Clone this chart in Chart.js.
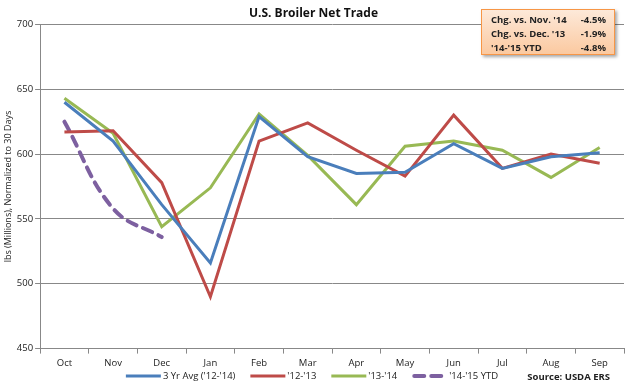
<!DOCTYPE html>
<html><head><meta charset="utf-8">
<script src="https://cdn.jsdelivr.net/npm/chart.js@4/dist/chart.umd.min.js"></script>
<style>
html,body{margin:0;padding:0;background:#fff;}
#wrap{position:relative;width:628px;height:388px;}
#box{position:absolute;left:481px;top:9px;width:134px;height:46px;border:1px solid #f79646;
background:linear-gradient(#fde9d9,#fbc9a0);box-shadow:2px 2px 3px rgba(0,0,0,0.35);
font-family:"Open Sans","Liberation Sans",sans-serif;font-weight:bold;font-size:9.5px;color:#222;box-sizing:border-box;padding:3px 8px 0 9px;line-height:14px;}
#box .r{display:flex;justify-content:space-between;}
</style></head>
<body><div id="wrap"><canvas id="c" width="628" height="388"></canvas>
<div id="box"><div class="r"><span>Chg. vs. Nov. '14</span><span>-4.5%</span></div>
<div class="r"><span>Chg. vs. Dec. '13</span><span>-1.9%</span></div>
<div class="r"><span>'14-'15 YTD</span><span>-4.8%</span></div></div></div>
<script>
const categories=["Oct","Nov","Dec","Jan","Feb","Mar","Apr","May","Jun","Jul","Aug","Sep"];
const avg3yr=[640,610,561,516,629,598,585,586,608,589,598,601];
const y1213=[617,618,578,490,610,624,603,583,630,589,600,593];
const y1314=[643,616,544,574,631,599,561,606,610,603,582,605];
const y1415=[625,558,536];
const yTicks=[450,500,550,600,650,700];
const FONT='"Open Sans","Liberation Sans",sans-serif';
const legendPlugin={id:'lg',afterDraw(ch){
  const c=ch.ctx;c.save();
  c.font='9.5px '+FONT;c.textBaseline='middle';c.fillStyle='#222';
  const y=376, lineW=35, gap=2, itemGap=15;
  const items=ch.data.datasets;
  let total=0;
  items.forEach(d=>{total+=lineW+gap+c.measureText(d.label).width;});
  total+=itemGap*(items.length-1);
  let x=312-total/2;
  items.forEach(d=>{
    c.save();c.strokeStyle=d.borderColor;c.lineWidth=d.borderWidth;c.lineCap=d.borderDash?'round':'butt';
    c.setLineDash(d.borderDash||[]);c.beginPath();c.moveTo(x+(d.borderDash?2:0),y);c.lineTo(x+lineW,y);c.stroke();c.restore();
    x+=lineW+gap;c.textAlign='left';c.fillText(d.label,x,y);
    x+=c.measureText(d.label).width+itemGap;
  });
  c.font='bold 9.5px '+FONT;c.textAlign='right';c.fillText('Source: USDA ERS',610,377);
  c.restore();}};
new Chart(document.getElementById('c'),{
type:'line',
data:{labels:categories,datasets:[
{label:"3 Yr Avg ('12-'14)",data:avg3yr,borderColor:'#4a7ebb',backgroundColor:'#4a7ebb',borderWidth:3,pointRadius:0,tension:0},
{label:"'12-'13",data:y1213,borderColor:'#be4b48',backgroundColor:'#be4b48',borderWidth:3,pointRadius:0,tension:0},
{label:"'13-'14",data:y1314,borderColor:'#98b954',backgroundColor:'#98b954',borderWidth:3,pointRadius:0,tension:0},
{label:"'14-'15 YTD",data:y1415,borderColor:'#7d60a0',backgroundColor:'#7d60a0',borderWidth:4,borderDash:[10,7],borderCapStyle:'round',pointRadius:0,tension:0.4}
]},
options:{responsive:false,animation:false,
layout:{padding:{left:3,right:4,top:2,bottom:15}},
plugins:{
title:{display:true,text:'U.S. Broiler Net Trade',font:{family:FONT,size:12,weight:'bold'},color:'#111',padding:{top:4,bottom:4}},
legend:{display:false},
tooltip:{enabled:false}},
scales:{
x:{offset:true,grid:{display:true,drawOnChartArea:false,offset:true,tickLength:5,color:'#888'},border:{color:'#888'},
ticks:{font:{family:FONT,size:9.5},color:'#222',padding:4}},
y:{min:450,max:700,afterBuildTicks(a){a.ticks=yTicks.map(v=>({value:v}));},
grid:{color:'#888',tickLength:5},border:{color:'#888'},
ticks:{font:{family:FONT,size:9.5},color:'#222',padding:2},
title:{display:true,text:'lbs (Millions), Normalized to 30 Days',font:{family:FONT,size:9},color:'#222',padding:{top:0,bottom:1}}}
}},
plugins:[legendPlugin]
});
</script></body></html>
